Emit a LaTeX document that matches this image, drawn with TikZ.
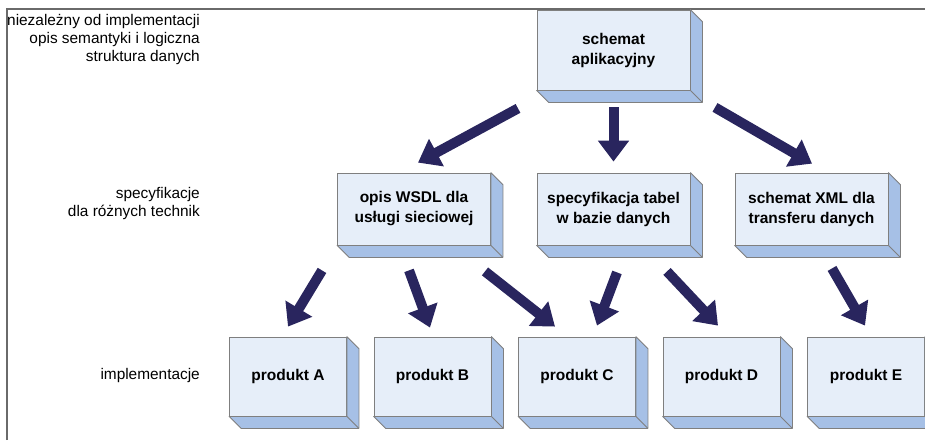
\documentclass[tikz,border=0pt]{standalone}
\usepackage{fontspec}
\setmainfont{Liberation Sans}
\usetikzlibrary{arrows.meta,calc}
\definecolor{face}{HTML}{E6EEF9}
\definecolor{side}{HTML}{A6C0E6}
\definecolor{edge}{HTML}{7F7F7F}
\definecolor{arr}{HTML}{29255E}
\definecolor{frame}{HTML}{6A6A6A}
\tikzset{
  box/.style={draw=edge, fill=face, line width=0.8pt, inner sep=0pt, align=center,
    font=\bfseries\fontsize{15.5}{20}\selectfont},
  topbox/.style={box, minimum width=153pt, minimum height=80pt},
  midbox/.style={box, minimum width=153pt, minimum height=72pt},
  lowbox/.style={box, minimum width=117pt, minimum height=79pt},
  sidelabel/.style={anchor=east, align=right, inner sep=0pt,
    font=\fontsize{15.4}{18}\selectfont},
  bigarrow/.style={draw=arr, line width=10pt,
    -{Triangle[width=30pt,length=21pt]}},
  extr/.style={fill=side, draw=edge, line width=0.8pt, line join=round},
}
\newcommand{\extrude}[1]{%
  \filldraw[extr] (#1.north east) -- ++(12,12) -- ($(#1.south east)+(12,12)$)
    -- ($(#1.south west)+(12,12)$) -- (#1.south west) -- (#1.south east) -- cycle;
  \draw[draw=edge, line width=0.8pt] (#1.south east) -- ++(12,12);
}
\begin{document}
\begin{tikzpicture}[x=1pt, y=-1pt]
\useasboundingbox (0,0) rectangle (925,440);
\clip (0,0) rectangle (925,440);

% frame
\coordinate (fr1) at (7,440);
\coordinate (fr2) at (7,9);
\coordinate (fr3) at (925,9);
\draw[frame, line width=1.5pt] (fr1) -- (fr2) -- (fr3);

% left labels
\node[sidelabel] (l1) at (200,40) {niezależny od implementacji\\opis semantyki i logiczna\\struktura danych};
\node[sidelabel] (l2) at (200,204) {specyfikacje\\dla różnych technik};
\node[sidelabel] (l3) at (200,376) {implementacje};

% boxes
\node[topbox] (top) at (613.5,50) {schemat\\aplikacyjny};
\node[midbox] (wsdl) at (414,209) {opis WSDL dla\\usługi sieciowej};
\node[midbox] (tabel) at (613.5,209) {specyfikacja tabel\\w bazie danych};
\node[midbox] (xml) at (811.5,209) {schemat XML dla\\transferu danych};
\node[lowbox] (pa) at (288,376.5) {produkt A};
\node[lowbox] (pb) at (432.5,376.5) {produkt B};
\node[lowbox] (pc) at (577,376.5) {produkt C};
\node[lowbox] (pd) at (721.5,376.5) {produkt D};
\node[lowbox] (pe) at (866,376.5) {produkt E};
\foreach \n in {top,wsdl,tabel,xml,pa,pb,pc,pd,pe} {\extrude{\n}}

% arrows
\draw[bigarrow] ($(top.south)+(-95.5,18)$) -- ($(wsdl.north)+(4,-10)$);
\draw[bigarrow] ($(top.south)+(0,17)$) -- ($(tabel.north)+(0,-11)$);
\draw[bigarrow] ($(top.south)+(101.5,17)$) -- ($(xml.north)+(0.5,-9)$);
\draw[bigarrow] ($(wsdl.south)+(-92,25)$) -- ($(pa.north)+(0,-10)$);
\draw[bigarrow] ($(wsdl.south)+(-5,25)$) -- ($(pb.north)+(-2.5,-9)$);
\draw[bigarrow] ($(wsdl.south)+(71,26)$) -- ($(pc.north)+(-22,-10)$);
\draw[bigarrow] ($(tabel.south)+(3.5,27)$) -- ($(pc.north)+(20,-11)$);
\draw[bigarrow] ($(tabel.south)+(53.5,26)$) -- ($(pd.north)+(-3.5,-11)$);
\draw[bigarrow] ($(xml.south)+(20.5,23)$) -- ($(pe.north)+(-1,-11)$);
\end{tikzpicture}
\end{document}
